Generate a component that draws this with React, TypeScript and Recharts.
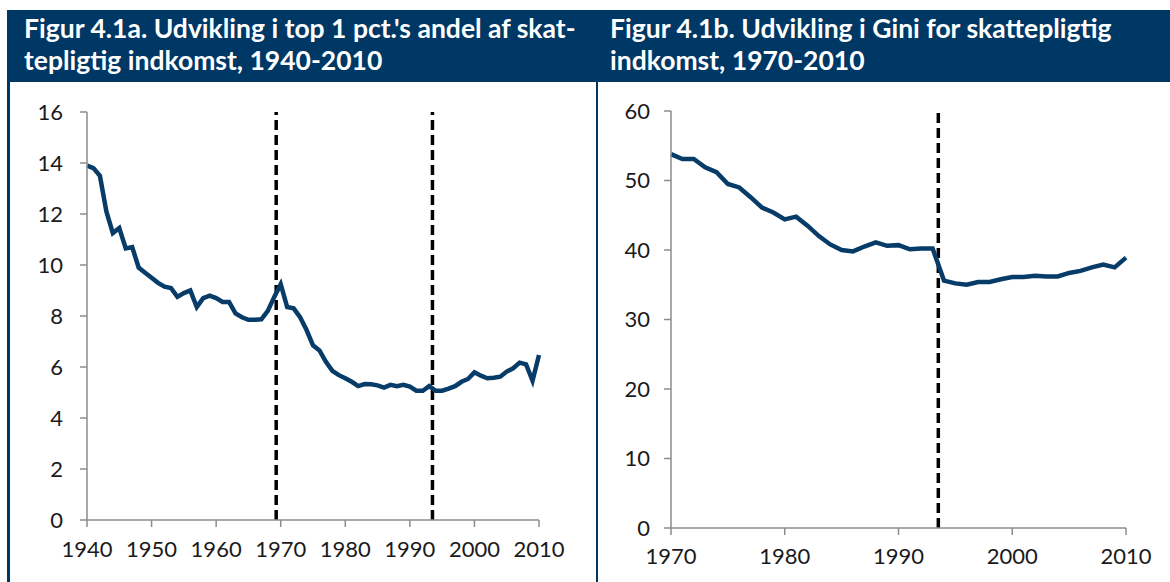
import { LineChart, Line, XAxis, YAxis, ReferenceLine } from "recharts";

// Figur 4.1a: top 1 pct.'s andel af skattepligtig indkomst (pct.)
const aarA = [
  1940, 1941, 1942, 1943, 1944, 1945, 1946, 1947, 1948, 1949,
  1950, 1951, 1952, 1953, 1954, 1955, 1956, 1957, 1958, 1959,
  1960, 1961, 1962, 1963, 1964, 1965, 1966, 1967, 1968, 1969,
  1970, 1971, 1972, 1973, 1974, 1975, 1976, 1977, 1978, 1979,
  1980, 1981, 1982, 1983, 1984, 1985, 1986, 1987, 1988, 1989,
  1990, 1991, 1992, 1993, 1994, 1995, 1996, 1997, 1998, 1999,
  2000, 2001, 2002, 2003, 2004, 2005, 2006, 2007, 2008, 2009, 2010,
];
const topAndel = [
  13.9, 13.8, 13.5, 12.1, 11.25, 11.45, 10.65, 10.7, 9.9, 9.7,
  9.5, 9.3, 9.15, 9.1, 8.75, 8.9, 9.0, 8.35, 8.7, 8.8,
  8.7, 8.55, 8.55, 8.1, 7.95, 7.85, 7.85, 7.87, 8.2, 8.75,
  9.25, 8.35, 8.3, 7.95, 7.45, 6.85, 6.65, 6.2, 5.85, 5.68,
  5.56, 5.42, 5.25, 5.33, 5.32, 5.28, 5.19, 5.3, 5.25, 5.3,
  5.23, 5.07, 5.07, 5.25, 5.07, 5.07, 5.15, 5.25, 5.42, 5.53,
  5.79, 5.66, 5.56, 5.58, 5.62, 5.82, 5.95, 6.17, 6.1, 5.46, 6.47,
];
const ticksXA = [1940, 1950, 1960, 1970, 1980, 1990, 2000, 2010];
const ticksYA = [0, 2, 4, 6, 8, 10, 12, 14, 16];
const skilleA = [1969.3, 1993.5];

// Figur 4.1b: Gini for skattepligtig indkomst
const aarB = [
  1970, 1971, 1972, 1973, 1974, 1975, 1976, 1977, 1978, 1979,
  1980, 1981, 1982, 1983, 1984, 1985, 1986, 1987, 1988, 1989,
  1990, 1991, 1992, 1993, 1994, 1995, 1996, 1997, 1998, 1999,
  2000, 2001, 2002, 2003, 2004, 2005, 2006, 2007, 2008, 2009, 2010,
];
const gini = [
  53.8, 53.1, 53.1, 51.9, 51.2, 49.5, 49.0, 47.6, 46.1, 45.4,
  44.4, 44.8, 43.5, 42.0, 40.8, 40.0, 39.8, 40.5, 41.1, 40.6,
  40.7, 40.1, 40.2, 40.2, 35.6, 35.2, 35.0, 35.4, 35.4, 35.8,
  36.1, 36.1, 36.3, 36.2, 36.2, 36.7, 37.0, 37.5, 37.9, 37.5, 38.9,
];
const ticksXB = [1970, 1980, 1990, 2000, 2010];
const ticksYB = [0, 10, 20, 30, 40, 50, 60];
const skilleB = [1993.5];

const dataA = aarA.map((aar, i) => ({ aar, vaerdi: topAndel[i] }));
const dataB = aarB.map((aar, i) => ({ aar, vaerdi: gini[i] }));

const BLAA = "#003865";
const LINJE = "#073c68";
const AKSE = "#8c8c8c";
const TICK = { fontSize: 22, fill: "#1a1a1a", fontFamily: "Lato" };

export default function App() {
  return (
    <div
      style={{
        position: "absolute",
        left: 0,
        top: 0,
        width: 1170,
        height: 582,
        background: "#ffffff",
        overflow: "hidden",
        fontFamily: "Lato",
      }}
    >
      {/* header band + panel borders */}
      <div
        style={{
          position: "absolute",
          left: 7,
          top: 10,
          width: 1163,
          height: 72,
          background: BLAA,
        }}
      />
      <div style={{ position: "absolute", left: 7, top: 10, width: 3, height: 572, background: BLAA }} />
      <div style={{ position: "absolute", left: 596, top: 10, width: 2, height: 572, background: BLAA }} />

      <Titel x={24} tekst={["Figur 4.1a. Udvikling i top 1 pct.'s andel af skat-", "tepligtig indkomst, 1940-2010"]} />
      <Titel x={610} tekst={["Figur 4.1b. Udvikling i Gini for skattepligtig", "indkomst, 1970-2010"]} />

      <div style={{ position: "absolute", left: 0, top: 0 }}>
        <LineChart
          width={596}
          height={582}
          data={dataA}
          margin={{ top: 112, right: 57, left: 0, bottom: 32 }}
        >
          <XAxis
            dataKey="aar"
            type="number"
            domain={[1940, 2010]}
            ticks={ticksXA}
            tick={TICK}
            tickSize={7}
            tickMargin={14}
            height={30}
            stroke={AKSE}
            strokeWidth={1.5}
          />
          <YAxis
            type="number"
            domain={[0, 16]}
            ticks={ticksYA}
            tick={TICK}
            tickSize={7}
            tickMargin={17}
            width={87}
            stroke={AKSE}
            strokeWidth={1.5}
          />
          {skilleA.map((x) => (
            <ReferenceLine key={x} x={x} stroke="#000000" strokeWidth={3.5} strokeDasharray="10 5" />
          ))}
          <Line
            type="linear"
            dataKey="vaerdi"
            stroke={LINJE}
            strokeWidth={4.5}
            dot={false}
            isAnimationActive={false}
          />
        </LineChart>
      </div>

      <div style={{ position: "absolute", left: 597, top: 0 }}>
        <LineChart
          width={573}
          height={582}
          data={dataB}
          margin={{ top: 111, right: 44, left: 0, bottom: 24 }}
        >
          <XAxis
            dataKey="aar"
            type="number"
            domain={[1970, 2010]}
            ticks={ticksXB}
            tick={TICK}
            tickSize={7}
            tickMargin={13}
            height={30}
            stroke={AKSE}
            strokeWidth={1.5}
          />
          <YAxis
            type="number"
            domain={[0, 60]}
            ticks={ticksYB}
            tick={TICK}
            tickSize={7}
            tickMargin={14}
            width={74}
            stroke={AKSE}
            strokeWidth={1.5}
          />
          {skilleB.map((x) => (
            <ReferenceLine key={x} x={x} stroke="#000000" strokeWidth={3.5} strokeDasharray="10 5" />
          ))}
          <Line
            type="linear"
            dataKey="vaerdi"
            stroke={LINJE}
            strokeWidth={4.5}
            dot={false}
            isAnimationActive={false}
          />
        </LineChart>
      </div>
    </div>
  );
}

function Titel({ x, tekst }: { x: number; tekst: string[] }) {
  return (
    <div
      style={{
        position: "absolute",
        left: x,
        top: 12,
        color: "#ffffff",
        fontFamily: "Lato",
        fontWeight: 700,
        fontSize: 26.5,
        lineHeight: "32px",
        whiteSpace: "nowrap",
      }}
    >
      {tekst.map((l) => (
        <div key={l}>{l}</div>
      ))}
    </div>
  );
}
